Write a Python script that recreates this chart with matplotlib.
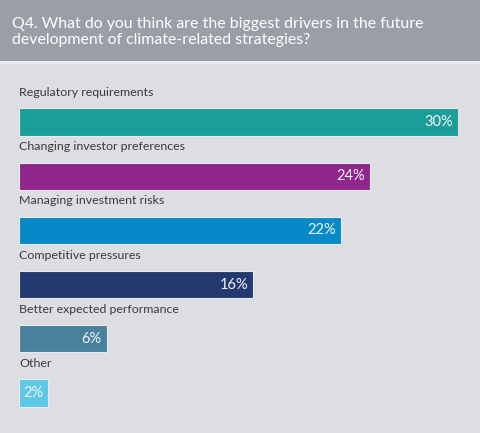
import matplotlib.pyplot as plt
from matplotlib.patches import Rectangle

categories = ["Regulatory requirements", "Changing investor preferences",
              "Managing investment risks", "Competitive pressures",
              "Better expected performance", "Other"]
values = [30, 24, 22, 16, 6, 2]
colors = ["#1b9e98", "#8e268c", "#0589c8", "#233a70", "#47819c", "#5cc8e6"]
title = "Q4. What do you think are the biggest drivers in the future\ndevelopment of climate-related strategies?"

W, H = 480, 433
fig = plt.figure(figsize=(W / 100, H / 100), dpi=100)
fig.patch.set_facecolor("#dddee2")

# header band
fig.patches.append(Rectangle((0, 1 - 61 / H), 1, 61 / H, transform=fig.transFigure,
                             facecolor="#9b9ea6", edgecolor="none", zorder=0))
fig.patches.append(Rectangle((0, 1 - 64 / H), 1, 3 / H, transform=fig.transFigure,
                             facecolor="#e8e9ec", edgecolor="none", zorder=0))
fig.text(12 / W, 1 - 32 / H, title, color="white", fontsize=11.4, family="Lato",
         va="center", ha="left", linespacing=1.1)

# bars area: x=0 at 19px, 30% at 458px; rows from 122px to 393px
top, bottom = 94.9, 420.1
ax = fig.add_axes([19 / W, 1 - bottom / H, 439 / W, (bottom - top) / H])
ax.set_facecolor("none")
y = list(range(len(values)))
ax.barh(y, values, height=0.5, color=colors, edgecolor="#e9eaee", linewidth=0.8)
for i, (cat, v) in enumerate(zip(categories, values)):
    ax.text(0, i - 0.545, cat, ha="left", va="center", fontsize=8.9,
            family="Lato", color="#3a3a3a")
    ax.text(v - 0.35, i, f"{v}%", ha="right", va="center", fontsize=10.5,
            family="Lato", color="#f4f4f6")
ax.set_xlim(0, 30)
ax.set_ylim(5.5, -0.5)
ax.axis("off")

fig.savefig("out.png", dpi=100, facecolor=fig.get_facecolor())
